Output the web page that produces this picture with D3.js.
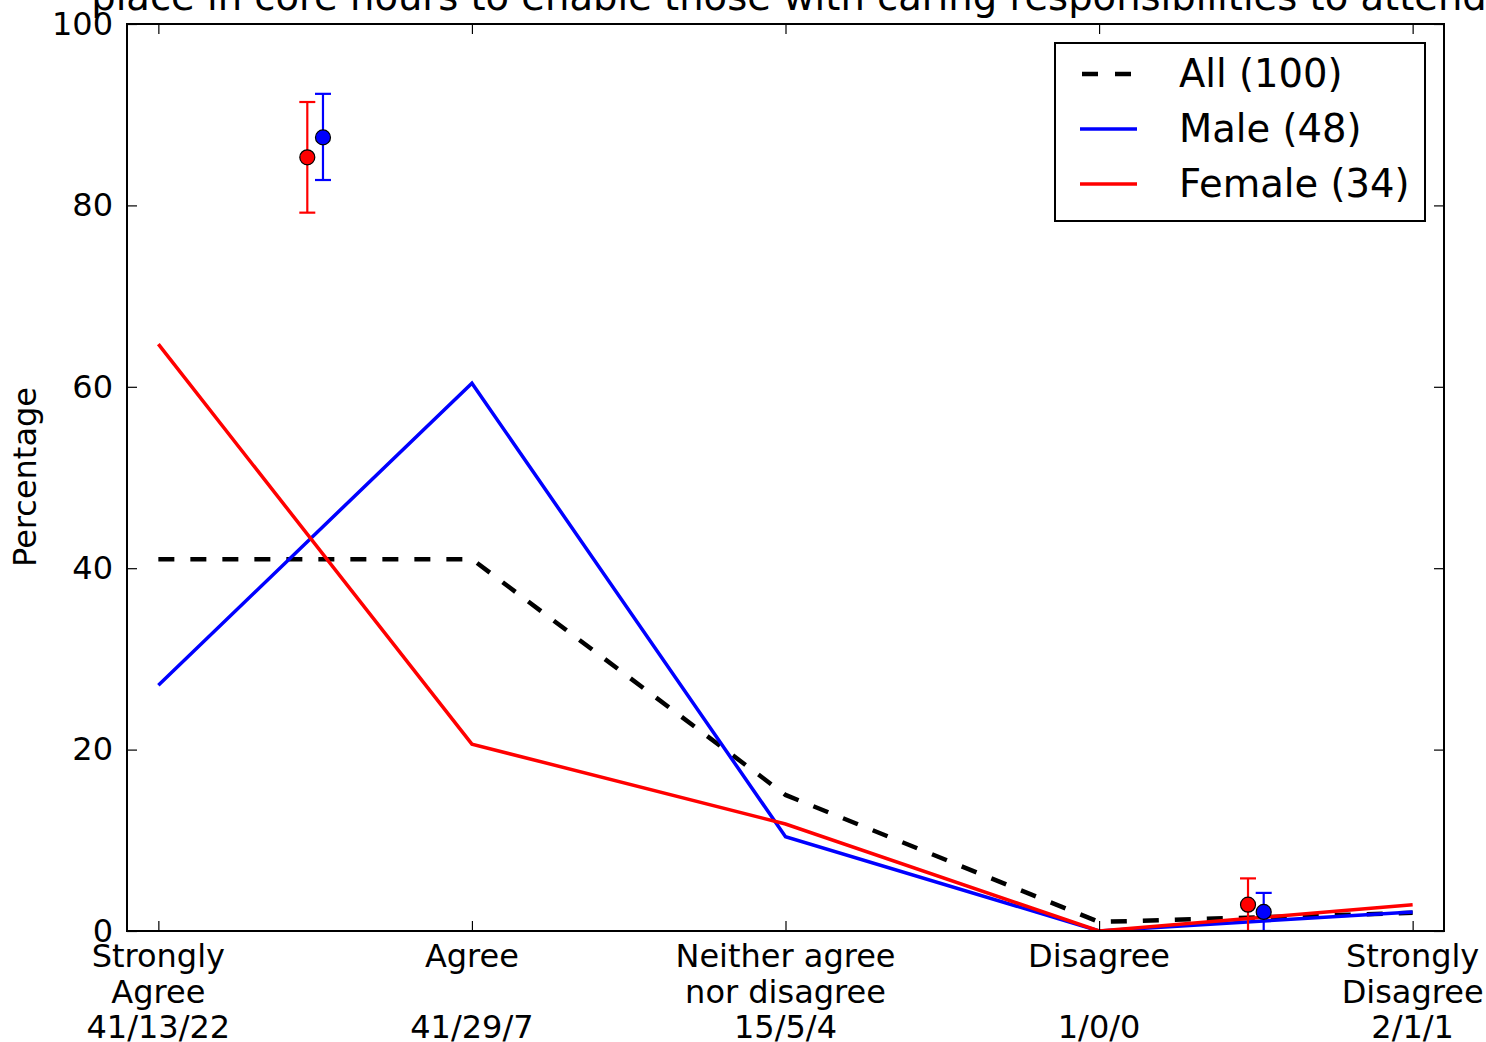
<!DOCTYPE html>
<html><head><meta charset="utf-8">
<script src="https://cdn.jsdelivr.net/npm/d3@7"></script>
<style>body{margin:0;background:#fff}svg{display:block}text{font-family:"DejaVu Sans",sans-serif;fill:#000}</style>
</head><body><svg id="c" width="1486" height="1042"></svg>
<script>
const titleText = "place in core hours to enable those with caring responsibilities to attend";
const categories = [["Strongly","Agree","41/13/22"],["Agree","","41/29/7"],["Neither agree","nor disagree","15/5/4"],["Disagree","","1/0/0"],["Strongly","Disagree","2/1/1"]];
const allVals = [41, 41, 15, 1, 2];
const maleVals = [27.1, 60.4, 10.4, 0, 2.1];
const femaleVals = [64.7, 20.6, 11.8, 0, 2.9];
const seriesNames = ["All (100)", "Male (48)", "Female (34)"];
const yTicks = [0, 20, 40, 60, 80, 100];
// error-bar points: [x position, value, low, high]
const femaleErr = [[0.475, 85.3, 79.2, 91.4], [3.475, 2.9, 0, 5.8]];
const maleErr = [[0.525, 87.5, 82.8, 92.3], [3.525, 2.1, 0, 4.2]];

const svg = d3.select("#c");
const L = 127, R = 1444, T = 24, B = 931;
const x = d3.scaleLinear().domain([-0.1, 4.1]).range([L, R]);
const y = d3.scaleLinear().domain([0, 100]).range([B, T]);
const FS = 32;

// title
svg.append("text").attr("x", 789).attr("y", 10).attr("text-anchor", "middle")
  .attr("font-size", 38.5).text(titleText);

svg.append("clipPath").attr("id", "pc").append("rect")
  .attr("x", L).attr("y", T).attr("width", R - L).attr("height", B - T);

const g = svg.append("g").attr("clip-path", "url(#pc)");
const line = d3.line().x((d, i) => x(i)).y(d => y(d));
g.append("path").datum(allVals).attr("d", line).attr("fill", "none").attr("stroke", "#000")
  .attr("stroke-width", 4.5).attr("stroke-dasharray", "16,16");
g.append("path").datum(maleVals).attr("d", line).attr("fill", "none").attr("stroke", "#0000ff").attr("stroke-width", 3.5);
g.append("path").datum(femaleVals).attr("d", line).attr("fill", "none").attr("stroke", "#ff0000").attr("stroke-width", 3.5);

function errs(data, col) {
  data.forEach(d => {
    const cx = x(d[0]);
    g.append("line").attr("x1", cx).attr("x2", cx).attr("y1", y(d[2])).attr("y2", y(d[3])).attr("stroke", col).attr("stroke-width", 2.2);
    [d[2], d[3]].forEach(v => g.append("line").attr("x1", cx - 8).attr("x2", cx + 8).attr("y1", y(v)).attr("y2", y(v)).attr("stroke", col).attr("stroke-width", 2.2));
    g.append("circle").attr("cx", cx).attr("cy", y(d[1])).attr("r", 7.5).attr("fill", col).attr("stroke", "#000").attr("stroke-width", 1.2);
  });
}
errs(femaleErr, "#ff0000");
errs(maleErr, "#0000ff");

// frame
svg.append("rect").attr("x", L).attr("y", T).attr("width", R - L).attr("height", B - T)
  .attr("fill", "none").attr("stroke", "#000").attr("stroke-width", 2);

// axes with inside ticks
const ya = d3.axisLeft(y).tickValues(yTicks).tickSize(-10).tickPadding(14).tickFormat(d3.format("d"));
const yag = svg.append("g").attr("transform", `translate(${L},0)`).call(ya);
svg.append("g").attr("transform", `translate(${R},0)`).call(d3.axisRight(y).tickValues(yTicks).tickSize(-10).tickFormat(""));
const xa = d3.axisBottom(x).tickValues([0,1,2,3,4]).tickSize(-10).tickFormat("");
svg.append("g").attr("transform", `translate(0,${B})`).call(xa);
svg.append("g").attr("transform", `translate(0,${T})`).call(d3.axisTop(x).tickValues([0,1,2,3,4]).tickSize(-10).tickFormat(""));
svg.selectAll(".domain").remove();
svg.selectAll(".tick line").attr("stroke", "#000").attr("stroke-width", 1.2);
yag.selectAll("text").attr("font-size", FS).attr("font-family", "DejaVu Sans").attr("fill", "#000");

// x category labels
categories.forEach((lines, i) => {
  lines.forEach((t, j) => {
    if (!t) return;
    svg.append("text").attr("x", x(i)).attr("y", 967 + j * 35.5).attr("text-anchor", "middle")
      .attr("font-size", FS).text(t);
  });
});

// y label
svg.append("text").attr("transform", "translate(36,477) rotate(-90)").attr("text-anchor", "middle")
  .attr("font-size", FS).text("Percentage");

// legend
const lg = svg.append("g");
lg.append("rect").attr("x", 1055).attr("y", 43).attr("width", 370).attr("height", 178)
  .attr("fill", "#fff").attr("stroke", "#000").attr("stroke-width", 2);
const legCols = ["#000", "#0000ff", "#ff0000"];
seriesNames.forEach((n, i) => {
  const yy = 74 + i * 55;
  const ln = lg.append("line").attr("x1", 1080).attr("x2", 1137).attr("y1", yy).attr("y2", yy)
    .attr("stroke", legCols[i]).attr("stroke-width", i === 0 ? 4.5 : 3.5);
  if (i === 0) ln.attr("x1", 1082).attr("x2", 1131).attr("stroke-dasharray", "16,17");
  lg.append("text").attr("x", 1179).attr("y", yy + 13).attr("font-size", 38.5).text(n);
});
</script></body></html>
